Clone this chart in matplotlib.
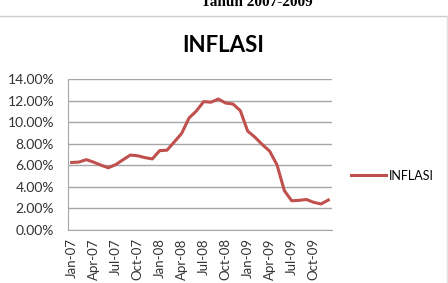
import matplotlib.pyplot as plt
from matplotlib.lines import Line2D
from matplotlib.ticker import PercentFormatter

months = ["Jan", "Feb", "Mar", "Apr", "May", "Jun", "Jul", "Aug", "Sep", "Oct", "Nov", "Dec"]
years = ["07", "08", "09"]
labels = [m + "-" + y for y in years for m in months]
inflasi = [6.26, 6.30, 6.52, 6.29, 6.01, 5.77, 6.06, 6.51, 6.95, 6.88, 6.71, 6.59,
           7.36, 7.40, 8.17, 8.96, 10.38, 11.03, 11.90, 11.85, 12.14, 11.77, 11.68, 11.06,
           9.17, 8.60, 7.92, 7.31, 6.04, 3.65, 2.71, 2.75, 2.83, 2.57, 2.41, 2.78]

plt.rcParams['font.family'] = ['Lato', 'DejaVu Sans']

fig = plt.figure(figsize=(4.48, 2.83), dpi=100)
ax = fig.add_axes([68/448, 53/283, 264/448, 151/283])

x = list(range(len(labels)))
ax.plot(x, inflasi, color="#C0504D", linewidth=2.2, label="INFLASI")

ax.set_xlim(-0.5, len(labels) - 0.5)
ax.set_ylim(0, 14)
ax.set_yticks(range(0, 15, 2))
ax.yaxis.set_major_formatter(PercentFormatter(decimals=2))
ax.set_xticks(x[::3])
ax.set_xticklabels(labels[::3], rotation=90)
ax.tick_params(length=0, colors="#333333")
ax.tick_params(axis="y", labelsize=10, pad=10)
ax.tick_params(axis="x", labelsize=9.5, pad=6)
ax.grid(axis="y", color="#a6a6a6", linewidth=1)
ax.set_axisbelow(True)
for s in ["top", "right"]:
    ax.spines[s].set_visible(False)
for s in ["left", "bottom"]:
    ax.spines[s].set_color("#a6a6a6")

fig.text(223/448, 1 - 52/283, "INFLASI", ha="center", va="baseline",
         fontsize=16, fontweight="bold")

ax.legend(loc="center left", bbox_to_anchor=(1.03, 0.36), frameon=False,
          fontsize=9, handlelength=2.8, handletextpad=0.25)

# cut-off caption and frame of the source document
fig.text(257/448, 1 - 6/283, "Tahun 2007-2009", ha="center", va="baseline",
         family="Liberation Serif", fontweight="bold", fontsize=11)
fig.add_artist(Line2D([0, 1], [1 - 15.5/283] * 2, color="#cccccc", linewidth=1))
fig.add_artist(Line2D([446.5/448] * 2, [0, 1 - 15.5/283], color="#e0e0e0", linewidth=1))

fig.savefig("out.png", dpi=100)
